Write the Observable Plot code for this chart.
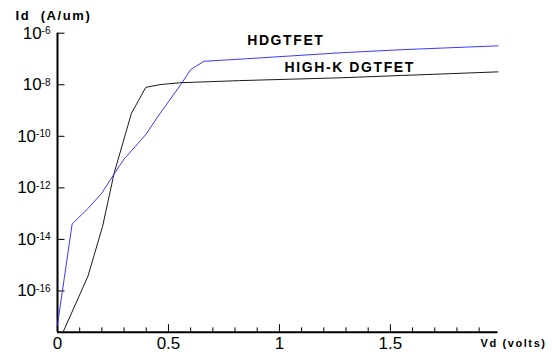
<!DOCTYPE html>
<html>
<head>
<meta charset="utf-8">
<script src="https://cdn.jsdelivr.net/npm/d3@7"></script>
<script src="https://cdn.jsdelivr.net/npm/@observablehq/plot@0.6"></script>
<style>
  html, body { margin: 0; padding: 0; background: #fff; }
  #chart svg { display: block; }
</style>
</head>
<body>
<div id="chart"></div>
<script>
// ---- data ----
const seriesNames = ["HDGTFET", "HIGH-K DGTFET"];
// HDGTFET (blue): drain voltage (V) and log10 of drain current (A/um)
const hdVd   = [0, 0.066, 0.14, 0.20, 0.26, 0.30, 0.35, 0.40, 0.45, 0.50, 0.56, 0.60, 0.66, 0.855, 1.275, 1.55, 1.985];
const hdLogI = [-17.31, -13.40, -12.78, -12.20, -11.40, -10.88, -10.40, -9.91, -9.26, -8.66, -7.94, -7.41, -7.09, -6.99, -6.76, -6.64, -6.49];
// HIGH-K DGTFET (black)
const hkVd   = [0.025, 0.137, 0.203, 0.255, 0.333, 0.398, 0.466, 0.556, 0.82, 1.277, 1.55, 1.985];
const hkLogI = [-17.6, -15.43, -13.50, -11.44, -9.11, -8.10, -7.99, -7.92, -7.84, -7.73, -7.64, -7.50];

const xTicks = [0, 0.5, 1, 1.5];
const xTickLabels = ["0", "0.5", "1", "1.5"];
const xMinorTicks = [0.1, 0.2, 0.3, 0.4, 0.6, 0.7, 0.8, 0.9, 1.1, 1.2, 1.3, 1.4, 1.6, 1.7, 1.8, 1.9];
const yTickExps = [-6, -8, -10, -12, -14, -16];
const yTicks = yTickExps.map(e => Math.pow(10, e));

const yTitle = "Id  (A/um)";
const xTitle = "Vd (volts)";

// ---- layout ----
const W = 552, H = 356;
const mL = 57, mR = 54.5, mT = 32.7, mB = 24.3;
const plotW = W - mL - mR, plotH = H - mT - mB;
const yMin = Math.pow(10, -17.6), yMax = 1e-6;

const hd = hdVd.map((v, i) => ({vd: v, id: Math.pow(10, hdLogI[i])}));
const hk = hkVd.map((v, i) => ({vd: v, id: Math.pow(10, hkLogI[i])}));

const chart = Plot.plot({
  width: W, height: H,
  marginLeft: mL, marginRight: mR, marginTop: mT, marginBottom: mB,
  x: {domain: [0, 1.985]},
  y: {type: "log", domain: [yMin, yMax]},
  style: {fontFamily: "'Liberation Sans', Arial, Helvetica, sans-serif", background: "#fff", color: "#000", whiteSpace: "pre", overflow: "visible"},
  marks: [
    Plot.axisX({ticks: xTicks, tickSize: 0, tickPadding: 4.5, fontSize: 17, label: null,
      tickFormat: d => xTickLabels[xTicks.indexOf(d)]}),
    Plot.axisY({ticks: yTicks, tickSize: 0, tickPadding: 7, fontSize: 17, label: null,
      tickFormat: d => "10^" + Math.round(Math.log10(d))}),
    // inward tick marks
    Plot.ruleX(xTicks, {x: d => d, insetTop: plotH - 7.5, stroke: "#000", strokeWidth: 1}),
    Plot.ruleX(xMinorTicks, {x: d => d, insetTop: plotH - 4.3, stroke: "#000", strokeWidth: 1}),
    Plot.ruleY(yTicks, {y: d => d, insetRight: plotW - 7.5, stroke: "#000", strokeWidth: 1}),
    // axis lines
    Plot.ruleX([0], {stroke: "#000", strokeWidth: 2}),
    Plot.ruleY([yMin], {stroke: "#000", strokeWidth: 2}),
    // curves
    Plot.line(hk, {x: "vd", y: "id", stroke: "#1a1a1a", strokeWidth: 1}),
    Plot.line(hd, {x: "vd", y: "id", stroke: "#3a3aff", strokeWidth: 1}),
    // labels
    Plot.text([seriesNames[0]], {text: d => d, frameAnchor: "top-left", dx: 189.7, dy: 11.6,
      textAnchor: "start", lineAnchor: "bottom", fontSize: 14, fontWeight: "bold", fill: "#000"}),
    Plot.text([seriesNames[1]], {text: d => d, frameAnchor: "top-left", dx: 227, dy: 38.3,
      textAnchor: "start", lineAnchor: "bottom", fontSize: 14, fontWeight: "bold", fill: "#000"}),
    Plot.text([yTitle], {text: d => d, frameAnchor: "top-left", dx: -42, dy: -13.4,
      textAnchor: "start", lineAnchor: "bottom", fontSize: 13, fontWeight: "bold", fill: "#000"}),
    Plot.text([xTitle], {text: d => d, frameAnchor: "top-left", dx: 423, dy: 314,
      textAnchor: "start", lineAnchor: "bottom", fontSize: 11, fontWeight: "bold", fill: "#000"})
  ]
});

const svg = d3.select(chart);
// letter spacing for the bold labels
svg.selectAll('g[aria-label="text"] text').style("letter-spacing", "1.6px");
// superscript exponents on y tick labels
svg.selectAll('g[aria-label="y-axis tick label"] text').each(function() {
  const t = d3.select(this);
  const parts = t.text().split("^");
  if (parts.length !== 2) return;
  t.text(parts[0]);
  t.append("tspan").attr("dy", "-4.5").attr("font-size", "10").text(parts[1]);
});

document.getElementById("chart").appendChild(chart);
</script>
</body>
</html>
